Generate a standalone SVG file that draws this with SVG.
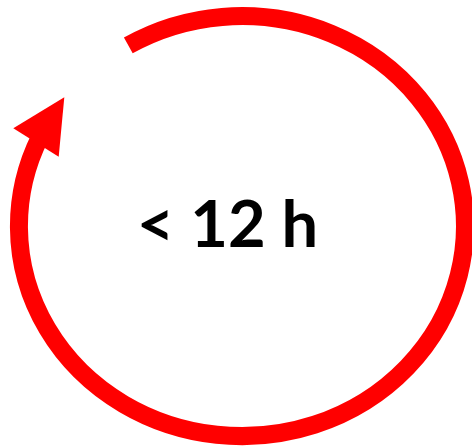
<svg xmlns="http://www.w3.org/2000/svg" width="472" height="447" viewBox="0 0 472 447">
  <style>
    .ring { fill: none; stroke: #FF0000; stroke-width: 18; stroke-linecap: butt; }
    .head { fill: #FF0000; stroke: none; }
    .label { font-family: Lato, "Open Sans", "Liberation Sans", sans-serif; font-weight: bold; font-size: 65px; fill: #000000; }
  </style>
  <rect width="472" height="447" fill="#FFFFFF"/>
  <g id="connectors">
    <path class="ring" d="M128.3,45.4 A223,210 0 1 1 39.9,137.2"/>
    <polygon class="head" points="64.3,97.3 13.3,128.3 58.7,156.7"/>
  </g>
  <g id="label">
    <text class="label" x="227.5" y="246.5" text-anchor="middle">&lt; 12 h</text>
  </g>
</svg>
